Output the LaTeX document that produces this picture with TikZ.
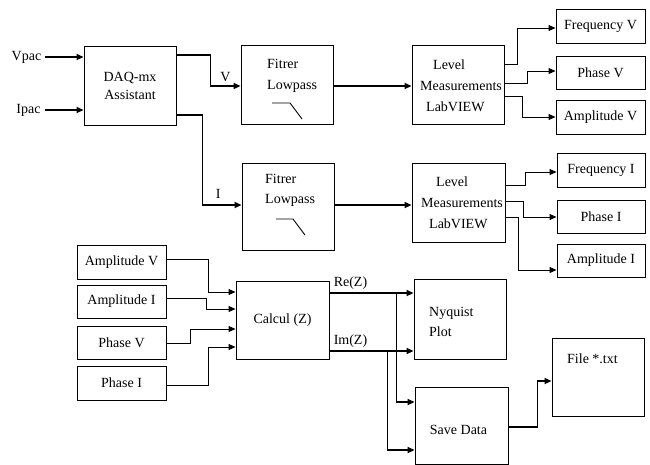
\documentclass[tikz,border=0pt]{standalone}
\usepackage{fontspec}
\setmainfont{Liberation Serif}
\usetikzlibrary{arrows.meta,calc}
\newcommand\dfont{\fontsize{14}{18}\selectfont}
\begin{document}
\begin{tikzpicture}[x=1pt,y=-1pt,
  box/.style={draw,line width=0.9pt,inner sep=0pt,font=\dfont},
  txt/.style={inner sep=0pt,font=\dfont,text height=10pt,text depth=3pt},
  multi/.style={inner sep=0pt,font=\fontsize{14}{21}\selectfont,align=left},
  thickline/.style={line width=1.7pt,-{Triangle[length=7pt,width=6pt]}},
  thinline/.style={line width=0.9pt,-{Triangle[length=7pt,width=6pt]}},
  plainthick/.style={line width=1.7pt}]
\path[fill=white] (0,0) rectangle (650,464);
\useasboundingbox (0,0) rectangle (650,464);

% inputs
\node[txt] (vpac) at (26.5,57) {Vpac};
\node[txt] (ipac) at (28.5,110) {Ipac};
\node[box,minimum width=92pt,minimum height=79pt,align=center] (daq) at (130,85.5) {DAQ-mx\\Assistant};
\draw[thickline] ([xshift=4pt]vpac.east) -- (vpac -| daq.west);
\draw[thickline] ([xshift=4pt]ipac.east) -- (ipac -| daq.west);

% filters
\node[box,minimum width=92pt,minimum height=79pt] (f1) at (287,84.5) {};
\node[txt,anchor=west] (f1a) at (267,65) {Fitrer};
\node[txt,anchor=west] (f1b) at (267,86) {Lowpass};
\draw[line width=0.9pt] (272,103) -- (290,103) -- (302,119);

\node[box,minimum width=92pt,minimum height=87pt] (f2) at (288,206.5) {};
\node[txt,anchor=west] (f2a) at (265,180) {Fitrer};
\node[txt,anchor=west] (f2b) at (265,200) {Lowpass};
\draw[line width=0.9pt] (276,219) -- (293,219) -- (305,235);

\draw[thickline] ([yshift=30.5pt]daq.east) -- ++(34,0) |- node[pos=0.75,above=1pt,txt]{V} ([yshift=-1.5pt]f1.west);
\draw[thickline] ([yshift=-29.5pt]daq.east) -- ++(26,0) |- node[pos=0.7,above=3pt,txt]{I} ([yshift=1.5pt]f2.west);

% level measurements
\node[box,minimum width=92pt,minimum height=79pt] (l1) at (458,84.5) {};
\node[multi,anchor=west] (l1t) at (420,86) {\hspace{13pt}Level\\Measurements\\\hspace{6pt}LabVIEW};
\node[box,minimum width=93pt,minimum height=79pt] (l2) at (458.5,202.5) {};
\node[multi,anchor=west] (l2t) at (421,203) {\hspace{15pt}Level\\Measurements\\\hspace{8pt}LabVIEW};

\draw[thickline] ([yshift=-1.5pt]f1.east) -- ([yshift=-1.5pt]f1.east -| l1.west);
\draw[thickline] ([yshift=1.5pt]f2.east) -- ([yshift=1.5pt]f2.east -| l2.west);

% outputs V
\node[box,minimum width=89pt,minimum height=34pt] (fv) at (600.5,26) {Frequency V};
\node[box,minimum width=89pt,minimum height=33pt] (pv) at (600.5,72.5) {Phase V};
\node[box,minimum width=89pt,minimum height=34pt] (av) at (600.5,117) {Amplitude V};
\draw[thinline] ([yshift=20.5pt]l1.east) -- ++(13,0) |- ([yshift=-2pt]fv.west);
\draw[thinline] ([yshift=1.5pt]l1.east) -- ++(23,0) |- ([yshift=1.5pt]pv.west);
\draw[thinline] ([yshift=-11.5pt]l1.east) -- ++(18,0) |- (av.west);

% outputs I
\node[box,minimum width=88pt,minimum height=34pt] (fi) at (601,170) {Frequency I};
\node[box,minimum width=88pt,minimum height=33pt] (pi) at (601,216.5) {Phase I};
\node[box,minimum width=88pt,minimum height=33pt] (ai) at (601,260.5) {Amplitude I};
\draw[thinline] ([yshift=17.5pt]l2.east) -- ++(20,0) |- ([yshift=-2pt]fi.west);
\draw[thinline] ([yshift=1.5pt]l2.east) -- ++(18,0) |- ([yshift=-0.5pt]pi.west);
\draw[thinline] ([yshift=-14.5pt]l2.east) -- ++(13,0) |- ([yshift=-9.5pt]ai.west);

% bottom part
\node[box,minimum width=89pt,minimum height=34pt] (av2) at (121.5,262) {Amplitude V};
\node[box,minimum width=89pt,minimum height=33pt] (ai2) at (121.5,301.5) {Amplitude I};
\node[box,minimum width=89pt,minimum height=33pt] (pv2) at (121.5,342.5) {Phase V};
\node[box,minimum width=89pt,minimum height=34pt] (pi2) at (121.5,383) {Phase I};
\node[box,minimum width=93pt,minimum height=78pt] (calc) at (282.5,320) {Calcul (Z)};

\draw[thinline] ([yshift=3pt]av2.east) -- ++(42,0) |- ([yshift=28pt]calc.west);
\draw[thinline] ([yshift=3.5pt]ai2.east) -- ++(40,0) |- ([yshift=11pt]calc.west);
\draw[thinline] ([yshift=-0.5pt]pv2.east) -- ++(24,0) |- ([yshift=-9pt]calc.west);
\draw[thinline] ([yshift=-2pt]pi2.east) -- ++(42,0) |- ([yshift=-27pt]calc.west);

\node[box,minimum width=92pt,minimum height=80pt] (ny) at (460,319) {};
\node[multi,anchor=west,font=\fontsize{14}{20}\selectfont] (nyt) at (429,322) {Nyquist\\Plot};
\node[box,minimum width=93pt,minimum height=77pt] (save) at (461.5,425.5) {};
\node[txt] (savet) at (458.5,431) {Save Data};
\node[box,minimum width=92pt,minimum height=78pt] (file) at (598,377) {};
\node[txt,anchor=west] (filet) at (567,360) {File *.txt};

\coordinate (re) at ([yshift=27pt]calc.east);
\coordinate (im) at ([yshift=-31pt]calc.east);
\draw[thickline] (re) -- node[pos=0.25,above=3pt,txt]{Re(Z)} (re -| ny.west);
\draw[thickline] (im) -- node[pos=0.25,above=3pt,txt]{Im(Z)} (im -| ny.west);
\draw[thickline] ([xshift=67pt]re) |- ([yshift=23.5pt]save.west);
\draw[thickline] ([xshift=58pt]im) |- ([yshift=-24.5pt]save.west);
\draw[thickline] ([yshift=-1.5pt]save.east) -- ++(29,0) |- ([yshift=-4pt]file.west);
\end{tikzpicture}
\end{document}
